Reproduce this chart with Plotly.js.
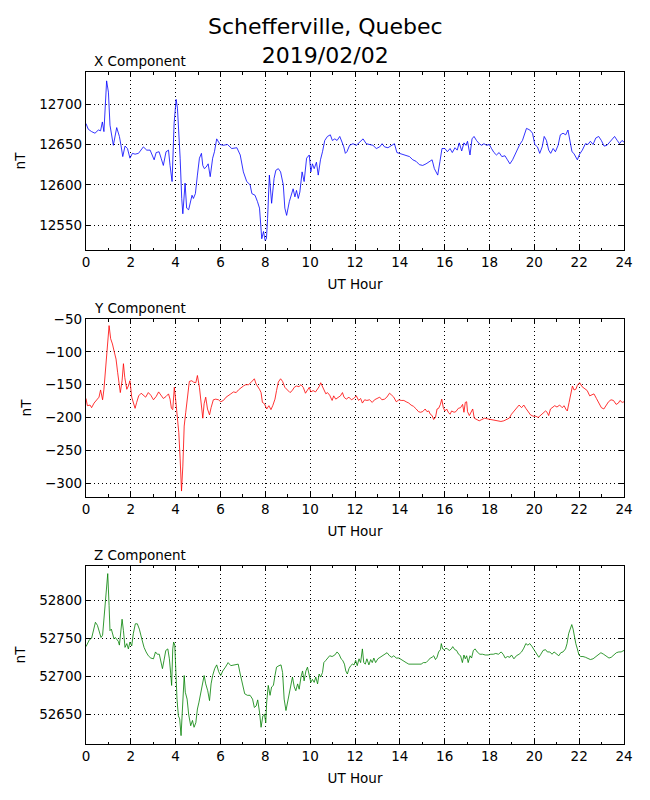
<!DOCTYPE html>
<html>
<head>
<meta charset="utf-8">
<script src="https://cdn.plot.ly/plotly-3.0.1.min.js"></script>
<style>
  body { margin: 0; background: #fff; }
  #plot { width: 650px; height: 800px; }
</style>
</head>
<body>
<div id="plot"></div>
<script>
// values (UT hour, nT)
const xHours = [0, 0.1, 0.25, 0.4, 0.55, 0.65, 0.73, 0.8, 0.92, 1.0, 1.07, 1.15, 1.22, 1.37, 1.49, 1.56, 1.64, 1.74, 1.85, 1.96,
  2.07, 2.19, 2.34, 2.56, 2.71, 2.86, 3.04, 3.13, 3.26, 3.35, 3.45, 3.57, 3.68, 3.75, 3.84, 3.93, 4.02, 4.08, 4.14, 4.2,
  4.27, 4.32, 4.42, 4.49, 4.58, 4.64, 4.73, 4.79, 4.88, 4.97, 5.06, 5.15, 5.21, 5.28, 5.36, 5.45, 5.54, 5.65, 5.73, 5.83,
  5.98, 6.13, 6.31, 6.5, 6.73, 6.88, 7.02, 7.17, 7.32, 7.4, 7.54, 7.65, 7.74, 7.84, 7.92, 7.99, 8.05, 8.1, 8.18, 8.28,
  8.39, 8.47, 8.58, 8.68, 8.8, 8.87, 8.95, 9.07, 9.17, 9.24, 9.32, 9.39, 9.47, 9.54, 9.64, 9.73, 9.84, 9.96, 10.03, 10.1,
  10.18, 10.28, 10.36, 10.46, 10.55, 10.65, 10.77, 10.9, 10.99, 11.1, 11.2, 11.32, 11.42, 11.5, 11.57, 11.64, 11.76, 11.91, 12.06, 12.21,
  12.36, 12.5, 12.65, 12.8, 12.95, 13.1, 13.21, 13.32, 13.47, 13.61, 13.76, 13.87, 13.99, 14.13, 14.28, 14.43, 14.58, 14.73, 14.87, 15.02,
  15.17, 15.32, 15.44, 15.54, 15.69, 15.79, 15.88, 16.01, 16.12, 16.24, 16.34, 16.46, 16.56, 16.65, 16.76, 16.86, 16.95, 17.02, 17.13, 17.22,
  17.31, 17.42, 17.54, 17.65, 17.75, 17.87, 17.99, 18.09, 18.2, 18.31, 18.43, 18.55, 18.69, 18.8, 18.91, 19.03, 19.13, 19.23, 19.35, 19.47,
  19.58, 19.65, 19.8, 19.92, 20.02, 20.14, 20.24, 20.35, 20.44, 20.54, 20.64, 20.73, 20.84, 20.94, 21.06, 21.16, 21.28, 21.4, 21.5, 21.61,
  21.68, 21.76, 21.85, 21.92, 22.02, 22.14, 22.28, 22.39, 22.5, 22.62, 22.74, 22.87, 22.99, 23.11, 23.24, 23.36, 23.48, 23.58, 23.7, 23.8,
  23.91, 24.0];
const xValues = [12676, 12669, 12666, 12664, 12668, 12667, 12678, 12666, 12729, 12715, 12674, 12657, 12649, 12671, 12660, 12649, 12635, 12648, 12645, 12633,
  12639, 12638, 12639, 12647, 12643, 12643, 12631, 12640, 12641, 12633, 12624, 12641, 12643, 12624, 12604, 12676, 12706, 12695, 12666, 12633,
  12583, 12564, 12602, 12571, 12569, 12575, 12587, 12583, 12589, 12612, 12633, 12639, 12624, 12620, 12622, 12626, 12610, 12633, 12641, 12657,
  12650, 12649, 12650, 12645, 12646, 12637, 12616, 12604, 12600, 12589, 12587, 12579, 12571, 12533, 12542, 12531, 12533, 12558, 12612, 12577,
  12608, 12618, 12620, 12616, 12600, 12571, 12562, 12579, 12587, 12595, 12585, 12593, 12583, 12591, 12616, 12604, 12633, 12637, 12616, 12626,
  12620, 12628, 12612, 12631, 12641, 12655, 12660, 12662, 12655, 12657, 12655, 12660, 12653, 12647, 12639, 12641, 12649, 12651, 12649, 12653,
  12657, 12651, 12650, 12649, 12645, 12647, 12651, 12647, 12646, 12648, 12651, 12640, 12639, 12637, 12636, 12635, 12631, 12629, 12625, 12624,
  12626, 12629, 12631, 12620, 12612, 12629, 12645, 12645, 12641, 12645, 12640, 12646, 12643, 12652, 12642, 12652, 12649, 12654, 12637, 12657,
  12660, 12655, 12651, 12649, 12651, 12649, 12650, 12645, 12640, 12637, 12640, 12635, 12636, 12631, 12626, 12631, 12637, 12645, 12650, 12655,
  12664, 12670, 12668, 12664, 12650, 12647, 12639, 12647, 12660, 12655, 12643, 12639, 12645, 12641, 12649, 12662, 12664, 12662, 12668, 12653,
  12641, 12639, 12635, 12631, 12638, 12643, 12651, 12650, 12654, 12650, 12658, 12660, 12655, 12648, 12649, 12653, 12658, 12660, 12655, 12651,
  12655, 12653];

const yHours = [0, 0.06, 0.18, 0.25, 0.36, 0.48, 0.58, 0.65, 0.74, 0.8, 0.88, 0.95, 1.03, 1.1, 1.18, 1.26, 1.34, 1.41, 1.47, 1.53,
  1.61, 1.67, 1.73, 1.82, 1.89, 1.96, 2.04, 2.11, 2.19, 2.26, 2.35, 2.46, 2.56, 2.66, 2.78, 2.89, 3.01, 3.13, 3.24, 3.35,
  3.45, 3.57, 3.68, 3.75, 3.81, 3.87, 3.94, 4.0, 4.08, 4.14, 4.2, 4.26, 4.32, 4.38, 4.45, 4.52, 4.61, 4.72, 4.79, 4.9,
  4.97, 5.06, 5.13, 5.21, 5.27, 5.34, 5.42, 5.51, 5.58, 5.68, 5.79, 5.91, 6.01, 6.13, 6.25, 6.35, 6.46, 6.58, 6.7, 6.8,
  6.92, 7.02, 7.13, 7.25, 7.35, 7.44, 7.51, 7.59, 7.66, 7.74, 7.81, 7.87, 7.96, 8.06, 8.16, 8.25, 8.33, 8.43, 8.5, 8.58,
  8.68, 8.77, 8.87, 8.98, 9.1, 9.2, 9.29, 9.39, 9.5, 9.59, 9.69, 9.79, 9.88, 9.96, 10.03, 10.13, 10.24, 10.33, 10.4, 10.47,
  10.55, 10.62, 10.7, 10.77, 10.87, 10.98, 11.05, 11.14, 11.24, 11.35, 11.44, 11.51, 11.61, 11.73, 11.84, 11.94, 12.06, 12.16, 12.25, 12.33,
  12.43, 12.53, 12.65, 12.77, 12.87, 12.98, 13.1, 13.2, 13.32, 13.42, 13.54, 13.64, 13.73, 13.84, 13.96, 14.06, 14.18, 14.28, 14.4, 14.5,
  14.61, 14.73, 14.83, 14.92, 15.02, 15.13, 15.21, 15.29, 15.36, 15.44, 15.51, 15.59, 15.66, 15.73, 15.81, 15.87, 15.94, 16.01, 16.09, 16.16,
  16.24, 16.31, 16.42, 16.5, 16.61, 16.71, 16.8, 16.86, 16.92, 16.98, 17.02, 17.1, 17.17, 17.25, 17.32, 17.42, 17.54, 17.66, 17.78, 17.9,
  18.02, 18.14, 18.26, 18.39, 18.51, 18.64, 18.76, 18.88, 18.98, 19.09, 19.2, 19.32, 19.43, 19.53, 19.62, 19.72, 19.83, 19.95, 20.07, 20.17,
  20.27, 20.39, 20.5, 20.57, 20.64, 20.72, 20.81, 20.91, 21.01, 21.13, 21.24, 21.33, 21.4, 21.47, 21.55, 21.62, 21.7, 21.77, 21.85, 21.92,
  22.02, 22.13, 22.25, 22.36, 22.47, 22.57, 22.66, 22.77, 22.87, 22.99, 23.1, 23.21, 23.31, 23.42, 23.53, 23.65, 23.75, 23.82, 23.92, 24.0];
const yValues = [-171, -182, -181, -185, -178, -172, -169, -158, -173, -157, -121, -90, -60, -80, -88, -100, -111, -131, -144, -162,
  -144, -118, -139, -157, -152, -144, -169, -177, -186, -177, -167, -163, -166, -169, -162, -166, -173, -168, -161, -166,
  -171, -168, -164, -172, -186, -188, -154, -173, -197, -223, -263, -312, -274, -213, -192, -167, -145, -144, -146, -147,
  -136, -154, -177, -201, -179, -169, -187, -196, -185, -173, -172, -173, -176, -174, -169, -167, -164, -161, -162, -158,
  -154, -152, -150, -150, -147, -144, -141, -149, -152, -157, -162, -177, -179, -187, -182, -188, -182, -172, -159, -146,
  -141, -145, -154, -158, -162, -159, -154, -152, -153, -150, -154, -163, -159, -154, -161, -159, -161, -157, -153, -147,
  -154, -158, -164, -162, -166, -174, -167, -172, -169, -167, -162, -169, -172, -169, -173, -171, -167, -174, -171, -178,
  -173, -174, -173, -177, -173, -171, -169, -173, -172, -169, -163, -166, -169, -176, -173, -174, -174, -176, -178, -181,
  -183, -187, -191, -192, -191, -187, -191, -190, -195, -197, -203, -200, -187, -186, -180, -172, -185, -190, -187, -192,
  -195, -190, -192, -191, -186, -185, -180, -192, -177, -176, -191, -197, -192, -187, -201, -203, -205, -203, -201, -202,
  -203, -203, -205, -206, -206, -205, -203, -201, -195, -190, -185, -181, -185, -181, -186, -191, -196, -198, -198, -200,
  -197, -192, -190, -192, -197, -187, -185, -182, -184, -181, -185, -182, -187, -190, -177, -167, -152, -158, -157, -151,
  -147, -153, -156, -159, -167, -166, -164, -171, -177, -185, -187, -181, -176, -173, -174, -180, -178, -174, -177, -176];

const zHours = [0, 0.06, 0.15, 0.25, 0.33, 0.42, 0.51, 0.6, 0.67, 0.74, 0.82, 0.89, 0.97, 1.03, 1.07, 1.13, 1.19, 1.25, 1.31, 1.37,
  1.44, 1.49, 1.55, 1.61, 1.67, 1.74, 1.82, 1.89, 1.96, 2.04, 2.11, 2.2, 2.29, 2.38, 2.49, 2.59, 2.68, 2.78, 2.89, 3.01,
  3.1, 3.18, 3.27, 3.35, 3.41, 3.48, 3.56, 3.65, 3.72, 3.78, 3.82, 3.87, 3.91, 3.96, 4.0, 4.06, 4.12, 4.18, 4.24, 4.3,
  4.38, 4.43, 4.51, 4.58, 4.67, 4.75, 4.82, 4.9, 4.97, 5.04, 5.12, 5.19, 5.27, 5.34, 5.43, 5.51, 5.58, 5.65, 5.74, 5.83,
  5.92, 6.01, 6.1, 6.22, 6.34, 6.46, 6.58, 6.7, 6.79, 6.88, 6.98, 7.08, 7.2, 7.32, 7.43, 7.51, 7.59, 7.66, 7.74, 7.81,
  7.89, 7.96, 8.02, 8.06, 8.13, 8.21, 8.28, 8.36, 8.43, 8.5, 8.61, 8.7, 8.77, 8.84, 8.92, 8.99, 9.07, 9.14, 9.21, 9.29,
  9.36, 9.44, 9.51, 9.59, 9.66, 9.73, 9.81, 9.88, 9.96, 10.03, 10.1, 10.18, 10.25, 10.33, 10.4, 10.47, 10.55, 10.61, 10.7, 10.8,
  10.87, 10.98, 11.1, 11.2, 11.29, 11.38, 11.45, 11.53, 11.59, 11.66, 11.73, 11.81, 11.88, 11.96, 12.03, 12.1, 12.18, 12.25, 12.33, 12.39,
  12.46, 12.53, 12.62, 12.7, 12.77, 12.84, 12.92, 13.02, 13.13, 13.21, 13.32, 13.43, 13.54, 13.64, 13.73, 13.84, 13.96, 14.06, 14.18, 14.28,
  14.4, 14.5, 14.62, 14.73, 14.84, 14.95, 15.05, 15.17, 15.27, 15.36, 15.44, 15.51, 15.59, 15.66, 15.73, 15.81, 15.85, 15.91, 15.99, 16.06,
  16.12, 16.21, 16.3, 16.36, 16.45, 16.53, 16.62, 16.71, 16.79, 16.86, 16.92, 16.98, 17.05, 17.13, 17.2, 17.28, 17.36, 17.45, 17.57, 17.69,
  17.81, 17.94, 18.06, 18.17, 18.28, 18.4, 18.52, 18.61, 18.7, 18.8, 18.91, 18.98, 19.09, 19.2, 19.32, 19.43, 19.53, 19.62, 19.71, 19.8,
  19.9, 19.99, 20.09, 20.2, 20.29, 20.39, 20.5, 20.58, 20.69, 20.79, 20.88, 20.99, 21.09, 21.18, 21.28, 21.39, 21.46, 21.53, 21.61, 21.67,
  21.73, 21.79, 21.85, 21.92, 21.99, 22.07, 22.17, 22.28, 22.39, 22.5, 22.62, 22.74, 22.86, 22.97, 23.09, 23.21, 23.33, 23.43, 23.54, 23.66,
  23.77, 23.87, 24.0];
const zValues = [52739, 52743, 52748, 52750, 52762, 52771, 52767, 52759, 52751, 52754, 52784, 52815, 52835, 52793, 52760, 52762, 52756, 52749, 52751, 52749,
  52746, 52741, 52762, 52775, 52760, 52738, 52743, 52736, 52745, 52740, 52756, 52769, 52769, 52762, 52749, 52738, 52732, 52727, 52724, 52723,
  52732, 52729, 52729, 52716, 52710, 52721, 52734, 52736, 52723, 52703, 52688, 52736, 52745, 52741, 52701, 52670, 52648, 52644, 52622, 52661,
  52701, 52679, 52670, 52650, 52635, 52642, 52633, 52639, 52657, 52666, 52679, 52686, 52701, 52690, 52681, 52668, 52690, 52701, 52710, 52715,
  52706, 52701, 52707, 52712, 52718, 52714, 52715, 52716, 52716, 52703, 52690, 52677, 52675, 52675, 52670, 52659, 52661, 52669, 52653, 52633,
  52648, 52650, 52639, 52666, 52688, 52675, 52686, 52688, 52701, 52712, 52714, 52715, 52705, 52670, 52655, 52666, 52679, 52688, 52699, 52686,
  52681, 52690, 52683, 52699, 52707, 52694, 52707, 52712, 52703, 52692, 52696, 52692, 52699, 52690, 52703, 52699, 52705, 52718, 52721, 52725,
  52727, 52726, 52728, 52732, 52729, 52723, 52721, 52716, 52707, 52703, 52710, 52714, 52716, 52715, 52721, 52714, 52723, 52718, 52736, 52718,
  52716, 52723, 52715, 52722, 52718, 52724, 52718, 52723, 52725, 52727, 52728, 52731, 52727, 52725, 52727, 52724, 52724, 52722, 52719, 52718,
  52716, 52716, 52716, 52716, 52716, 52716, 52718, 52718, 52721, 52724, 52725, 52727, 52722, 52725, 52732, 52735, 52743, 52736, 52735, 52737,
  52736, 52734, 52736, 52739, 52735, 52734, 52729, 52727, 52718, 52728, 52723, 52727, 52718, 52727, 52724, 52734, 52736, 52732, 52729, 52729,
  52728, 52728, 52729, 52729, 52730, 52729, 52732, 52729, 52724, 52726, 52725, 52728, 52723, 52727, 52729, 52732, 52737, 52743, 52741, 52743,
  52739, 52735, 52729, 52725, 52729, 52734, 52735, 52732, 52732, 52729, 52732, 52729, 52727, 52731, 52732, 52736, 52743, 52756, 52762, 52768,
  52762, 52751, 52743, 52736, 52728, 52726, 52726, 52725, 52723, 52722, 52723, 52726, 52729, 52731, 52729, 52726, 52724, 52725, 52728, 52731,
  52732, 52732, 52734];

const chartTitle = "Schefferville, Quebec<br>2019/02/02";
const panelTitles = ["X Component", "Y Component", "Z Component"];
const lineColors = ["#0000ff", "#ff0000", "#008000"];
const yRanges = [[12519, 12740], [-321, -50], [52611, 52845]];

const font = "DejaVu Sans, sans-serif";
const domains = [[0.7351, 1], [0.3676, 0.6324], [0, 0.2649]];

function suffix(i) {
  return i ? String(i + 1) : "";
}

function baseAxis() {
  return {
    ticks: "inside",
    ticklen: 5,
    tickcolor: "#000",
    mirror: "allticks",
    showline: true,
    linecolor: "#000",
    linewidth: 1.2,
    showgrid: true,
    gridcolor: "#000",
    griddash: "1px,3px",
    gridwidth: 1,
    zeroline: false,
    tickfont: { size: 13.5, color: "#000" },
  };
}

function xAxis(i) {
  return Object.assign(baseAxis(), {
    domain: [0, 1],
    anchor: "y" + suffix(i),
    range: [0, 24],
    tickmode: "linear",
    tick0: 0,
    dtick: 2,
    minor: { dtick: 1, tick0: 0, ticks: "inside", ticklen: 2.5, tickcolor: "#000", showgrid: false },
    title: { text: "UT Hour", font: { size: 13.5, color: "#000" }, standoff: 10 },
  });
}

function yAxis(i) {
  return Object.assign(baseAxis(), {
    domain: domains[i],
    anchor: "x" + suffix(i),
    range: yRanges[i],
    tickmode: "linear",
    tick0: 0,
    dtick: 50,
    tickformat: "d",
    title: { text: "nT", font: { size: 13.5, color: "#000" }, standoff: 10 },
  });
}

const series = [[xHours, xValues], [yHours, yValues], [zHours, zValues]];
const data = series.map((s, i) => ({
  type: "scatter",
  mode: "lines",
  x: s[0],
  y: s[1],
  xaxis: "x" + suffix(i),
  yaxis: "y" + suffix(i),
  line: { color: lineColors[i], width: 0.8 },
  hoverinfo: "skip",
}));

const annotations = panelTitles.map((t, i) => ({
  text: t,
  xref: "x" + suffix(i) + " domain",
  yref: "y" + suffix(i) + " domain",
  x: 0.011,
  y: 1,
  xanchor: "left",
  yanchor: "bottom",
  yshift: 1,
  showarrow: false,
  font: { size: 13.5, color: "#000" },
}));
// main title as an annotation so both lines sit where the reference has them
annotations.push({
  text: chartTitle,
  xref: "paper",
  yref: "paper",
  x: 0.446,
  y: 1,
  xanchor: "center",
  yanchor: "bottom",
  yshift: 2,
  showarrow: false,
  font: { size: 22, color: "#000" },
});

const layout = {
  width: 650,
  height: 800,
  margin: { l: 86, r: 26, t: 72, b: 56 },
  paper_bgcolor: "#fff",
  plot_bgcolor: "#fff",
  showlegend: false,
  font: { family: font, color: "#000" },
  annotations: annotations,
};
[0, 1, 2].forEach((i) => {
  layout["xaxis" + suffix(i)] = xAxis(i);
  layout["yaxis" + suffix(i)] = yAxis(i);
});

Plotly.newPlot("plot", data, layout, { staticPlot: true });
</script>
</body>
</html>
